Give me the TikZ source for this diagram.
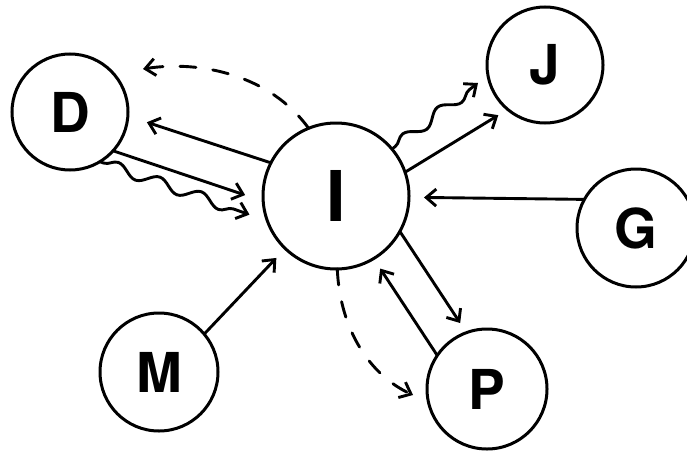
\documentclass[tikz,border=0pt]{standalone}
\usepackage{fontspec}
\setmainfont{TeX Gyre Heros}
\usetikzlibrary{arrows.meta,decorations.pathmorphing,calc}
\begin{document}
\begin{tikzpicture}[x=1pt,y=1pt,
  state/.style={circle,draw,line width=3pt,minimum size=#1,inner sep=0pt,outer sep=0pt,
    font=\fontsize{55}{55}\selectfont\bfseries},
  conn/.style={line width=2.9pt,line cap=round,-{Straight Barb[length=10pt,width=17pt]}},
  dconn/.style={conn,dash pattern=on 16pt off 17pt},
  wavy/.style={conn,decorate,decoration={snake,amplitude=5.5pt,segment length=44pt,pre length=4pt,post length=10pt}}
]
\useasboundingbox (0,0) rectangle (687,451);
\node[state=116] (D) at (70,339) {D};
\node[state=146,font=\fontsize{70}{70}\selectfont\bfseries] (I) at (336,255) {I};
\node[state=116] (J) at (545,386) {J};
\node[state=118] (G) at (636,223) {G};
\node[state=118] (M) at (159,79) {M};
\node[state=120] (P) at (487,62) {P};

\draw[conn,shorten >=20pt] (I.153) -- (D.-4);
\draw[conn,shorten >=19pt] (D.-42) -- (I.184);
\draw[wavy] (D.-59) -- ($(I.200)!19pt!(D.-59)$);
\draw[dconn] (I.112) .. controls (270,376) and (200,391) .. ($(D.center)+(73,43)$);
\draw[wavy] (I.40) -- ($(J.center)+(-67,-18)$);
\draw[conn,shorten >=11pt] (I.19) -- (J.230);
\draw[conn,shorten >=15pt] (G.151) -- (I.-1);
\draw[conn,shorten >=11.5pt] (I.-29) -- (P.110);
\draw[conn,shorten >=12pt] (P.146) -- (I.-59);
\draw[dconn] (I.271) .. controls (340,121) and (370,76) .. ($(P.center)+(-74,-6)$);
\draw[conn,shorten >=13pt] (M.40) -- (I.226);
\end{tikzpicture}
\end{document}
